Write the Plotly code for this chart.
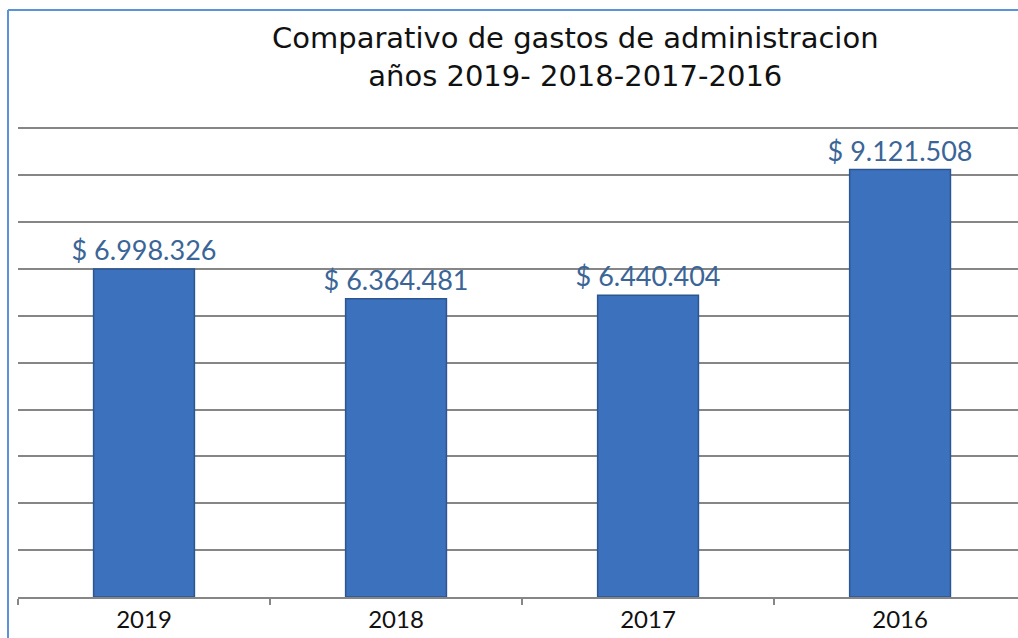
import plotly.graph_objects as go

years = ["2019", "2018", "2017", "2016"]
gastos = [6998326, 6364481, 6440404, 9121508]
labels = ["$ 6.998.326", "$ 6.364.481", "$ 6.440.404", "$ 9.121.508"]
title_lines = ["Comparativo de gastos de administracion", "años 2019- 2018-2017-2016"]

FONT = "Lato"
TFONT = "DejaVu Sans"

# plot area: x 18..1018, y 126..597 (pixels)
def px_x(px):
    return (px - 18) / 1000

def px_y(py):
    return (597 - py) / 471

fig = go.Figure()
fig.add_trace(go.Bar(
    x=years, y=gastos, text=labels, textposition="outside", constraintext="none",
    textfont=dict(family=FONT, size=27, color="#3B6596"),
    marker=dict(color="#3C71BE", line=dict(color="#2C5690", width=1.5)),
    cliponaxis=False, hoverinfo="skip",
))

fig.update_layout(
    width=1018, height=638,
    margin=dict(l=18, r=0, t=126, b=41),
    paper_bgcolor="white", plot_bgcolor="white",
    bargap=0.6, showlegend=False,
    annotations=[
        dict(text=title_lines[0] + "<br>" + title_lines[1],
             x=px_x(575), y=px_y(57), xref="paper", yref="paper",
             xanchor="center", yanchor="middle", showarrow=False,
             font=dict(family=TFONT, size=29, color="#111111")),
    ],
    xaxis=dict(
        type="category", range=[-0.5, 3.468],
        showline=True, linecolor="#868686", linewidth=1.5,
        ticks="outside", tickson="boundaries", ticklen=6, tickcolor="#868686", tickwidth=1.5,
        tickfont=dict(family=FONT, size=24, color="#111111"),
        showgrid=False,
    ),
    yaxis=dict(
        range=[0, 10050000], dtick=1000000, showticklabels=False,
        showgrid=True, gridcolor="#868686", gridwidth=1.5,
        zeroline=False, ticks="",
    ),
    shapes=[
        dict(type="line", xref="paper", yref="paper", x0=px_x(8), x1=px_x(8), y0=-0.2, y1=px_y(10),
             line=dict(color="#5B93DA", width=2)),
        dict(type="line", xref="paper", yref="paper", x0=px_x(8), x1=1.1, y0=px_y(10), y1=px_y(10),
             line=dict(color="#5B93DA", width=2)),
    ],
)

fig.write_html("out.html")
